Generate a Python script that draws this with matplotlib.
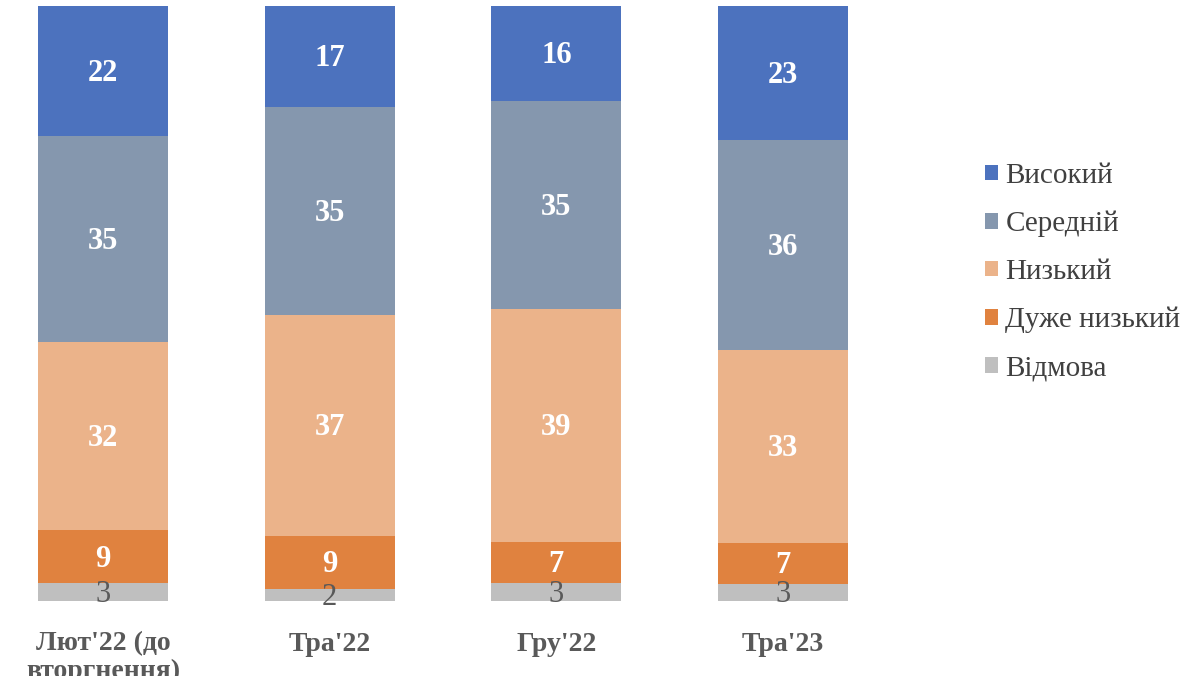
import numpy as np
import matplotlib.pyplot as plt

categories = ["Лют'22 (до\nвторгнення)", "Тра'22", "Гру'22", "Тра'23"]
series = ["Відмова", "Дуже низький", "Низький", "Середній", "Високий"]
vidmova = [3, 2, 3, 3]
duzhe_nyzkyi = [9, 9, 7, 7]
nyzkyi = [32, 37, 39, 33]
serednii = [35, 35, 35, 36]
vysokyi = [22, 17, 16, 23]

colors = ["#BFBFBF", "#E0823F", "#EBB38A", "#8597AE", "#4C72BE"]
label_colors = ["#595959", "white", "white", "white", "white"]

plt.rcParams["font.family"] = ["Liberation Serif", "DejaVu Serif"]

data = np.array([vidmova, duzhe_nyzkyi, nyzkyi, serednii, vysokyi], dtype=float)
totals = data.sum(axis=0)
shares = data / totals

fig = plt.figure(figsize=(12.02, 6.76), dpi=100)
ax = fig.add_axes([0, 1 - 601 / 676, 900 / 1202, 595 / 676])

x = np.arange(len(categories))
bottom = np.zeros(len(categories))
bars = []
for i, name in enumerate(series):
    b = ax.bar(x, shares[i], 0.573, bottom=bottom, color=colors[i], label=name)
    bars.append(b)
    for j in range(len(categories)):
        yc = bottom[j] + shares[i][j] / 2
        if i == 0:
            ax.text(x[j], yc - 0.004, str(int(data[i][j])), ha="center", va="center",
                    fontsize=22, color=label_colors[i])
        else:
            ax.text(x[j], yc - 0.004, str(int(data[i][j])), ha="center", va="center",
                    fontsize=22, fontweight="bold", color=label_colors[i])
    bottom += shares[i]

ax.set_xlim(-103 / 226.67, (900 - 103) / 226.67)
ax.set_ylim(0, 1)
ax.set_xticks(x)
ax.set_xticklabels(categories, fontsize=20, fontweight="bold", color="#595959",
                   linespacing=1.1, va="top")
ax.tick_params(axis="x", length=0, pad=22)
ax.set_yticks([])
for s in ax.spines.values():
    s.set_visible(False)

handles = bars[::-1]
labels = series[::-1]
fig.legend(handles, labels, loc="center left", bbox_to_anchor=(985 / 1202, 1 - 272 / 676),
           frameon=False, fontsize=21, handlelength=0.45, handleheight=0.45,
           handletextpad=0.25, labelspacing=0.75, labelcolor="#404040",
           borderpad=0, borderaxespad=0)

fig.savefig("out.png", dpi=100)
